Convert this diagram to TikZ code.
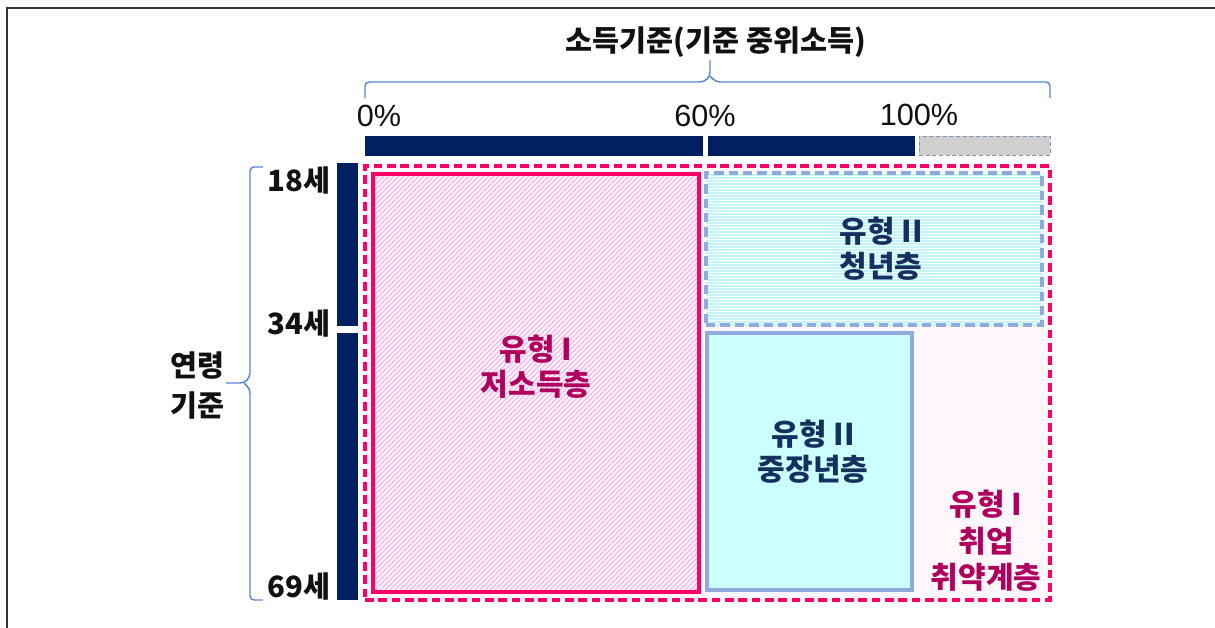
\documentclass[tikz,border=0pt]{standalone}
\usepackage{fontspec}
\setmainfont{Noto Sans CJK KR}
\newfontfamily\arialf{Liberation Sans}
\usetikzlibrary{fit}
\definecolor{navy}{HTML}{002060}
\definecolor{hotpink}{HTML}{FF0066}
\definecolor{pinktext}{HTML}{B0005E}
\definecolor{navytext}{HTML}{14305F}
\definecolor{bluebox}{HTML}{8FAADC}
\definecolor{bracec}{HTML}{5B84D4}
\definecolor{hatchp}{HTML}{F8BDEE}
\definecolor{hatchc}{HTML}{C4F6F8}
\definecolor{cyanfill}{HTML}{CCFFFF}
\definecolor{outerfill}{HTML}{FFF7FC}
\definecolor{grayfill}{HTML}{D0CECE}
\definecolor{graybord}{HTML}{7F98B8}
\definecolor{framec}{HTML}{333333}
\definecolor{textc}{HTML}{111111}
\begin{document}
\begin{tikzpicture}[x=0.75pt,y=-0.75pt,
  lbl/.style={font=\fontsize{22}{30}\selectfont\bfseries, text=textc, align=center, inner sep=0pt},
  boxlbl/.style={align=center, inner sep=0pt, font=\fontsize{22.5}{26.5}\selectfont\bfseries},
  pct/.style={font=\arialf\fontsize{23}{26}\selectfont, text=textc, inner sep=0pt},
  bar/.style={fill=navy, draw=navy, line width=0.4pt, inner sep=0pt},
  graybar/.style={fill=grayfill, draw=graybord, densely dashed, line width=0.5pt, inner sep=0pt},
  brace/.style={draw=bracec, line width=1.1pt, rounded corners=3pt},
  outerbox/.style={draw=hotpink, fill=outerfill, line width=2.4pt, dash pattern=on 6.5pt off 3.5pt, inner sep=0pt},
  lowbox/.style={draw=hotpink, fill=white, line width=3pt, inner sep=0pt,
    path picture={\foreach \i in {-430,-425,...,330}
      \draw[hatchp, solid, line width=1.1pt] ([xshift=\i*0.75pt]path picture bounding box.south west) -- ++(440,-440);}},
  youthbox/.style={draw=bluebox, fill=white, line width=2.5pt, dash pattern=on 7pt off 3.8pt, inner sep=0pt,
    path picture={\foreach \j in {0,3,...,156}
      \draw[hatchc, solid, line width=0.8pt] ([yshift=\j*0.75pt]path picture bounding box.south west) -- ++(345,0);}},
  midbox/.style={draw=bluebox, fill=cyanfill, line width=2.6pt, inner sep=0pt}
]
\useasboundingbox (0,0) rectangle (1215,628);
% frame
\draw[framec, line width=1.6pt] (7,628) -- (7,8) -- (1215,8);

% title and top brace
\node[lbl] (title) at (716,42) {소득기준(기준 중위소득)};
\coordinate (tb1) at (365,98);
\coordinate (tb2) at (1050,98);
\coordinate (ttip) at (710,60);
\draw[brace] (tb1) -- (365,82) -- (704,82) -- (710,76) -- (ttip);
\draw[brace] (710,76) -- (716,82) -- (1050,82) -- (tb2);

% percent labels
\node[pct] (p0) at (379,116) {0\%};
\node[pct] (p60) at (705,116) {60\%};
\node[pct] (p100) at (919,115) {100\%};

% top bars
\node[bar, fit={(365,136)(702,155)}] (bar1) {};
\node[bar, fit={(708,136)(914,155)}] (bar2) {};
\node[graybar, fit={(919,136)(1050,155)}] (bar3) {};

% left bars
\node[bar, fit={(337,163)(357,325)}] (vbar1) {};
\node[bar, fit={(337,333)(357,599)}] (vbar2) {};

% age labels
\node[lbl] (a18) at (299,180) {18세};
\node[lbl] (a34) at (299,323) {34세};
\node[lbl] (a69) at (299,586) {69세};
\node[lbl] (age) at (197,386) {연령\\기준};

% left brace
\coordinate (lb1) at (263,167);
\coordinate (lb2) at (263,600);
\coordinate (ltip) at (226,383);
\draw[brace] (lb1) -- (250,167) -- (250,377) -- (244,383) -- (ltip);
\draw[brace] (244,383) -- (250,389) -- (250,600) -- (lb2);

% boxes
\node[outerbox, fit={(365,166)(1050,600)}] (outer) {};
\node[lowbox, fit={(373,174)(699,592)}] (low) {};
\node[youthbox, fit={(706,173)(1042,325)}] (youth) {};
\node[midbox, fit={(707,333)(912,590)}] (mid) {};

% box texts
\node[boxlbl, text=pinktext] (tlow) at (536,367) {유형 I\\저소득층};
\node[boxlbl, text=navytext] (tyouth) at (881,249) {유형 II\\청년층};
\node[boxlbl, text=navytext] (tmid) at (813,452) {유형 II\\중장년층};
\node[boxlbl, text=pinktext, font=\fontsize{22.5}{27.5}\selectfont\bfseries] (temp) at (986,541) {유형 I\\취업\\취약계층};
\end{tikzpicture}
\end{document}
